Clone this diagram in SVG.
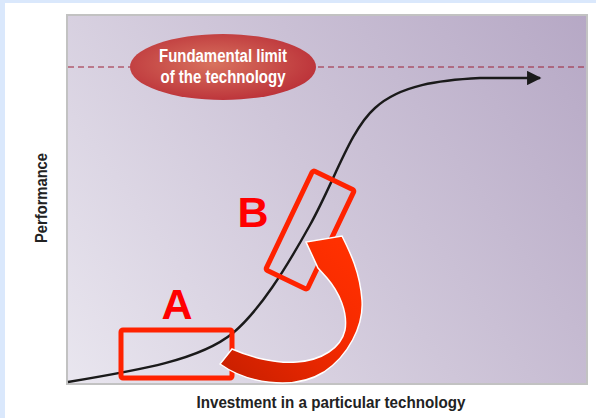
<svg xmlns="http://www.w3.org/2000/svg" width="596" height="418" viewBox="0 0 596 418">
<style>
.lbl{font-family:"Liberation Sans Narrow","Liberation Sans",Arial,sans-serif;font-weight:bold;fill:#222}
.big{font-family:"Liberation Sans",Arial,sans-serif;font-weight:bold;fill:#ff0000;font-size:43px;text-anchor:middle}
.ell{font-family:"Liberation Sans Narrow","Liberation Sans",Arial,sans-serif;font-weight:bold;fill:#fff;font-size:18px}
.box{fill:none;stroke:#ff2200;stroke-width:5;stroke-linejoin:round}
</style>
<defs>
<linearGradient id="bg" gradientUnits="userSpaceOnUse" x1="67" y1="383" x2="587" y2="15">
<stop offset="0" stop-color="#e9e6ef"/>
<stop offset="0.5" stop-color="#cfc6d9"/>
<stop offset="1" stop-color="#b6a8c5"/>
</linearGradient>
<radialGradient id="eg" cx="0.45" cy="0.45" r="0.6">
<stop offset="0" stop-color="#d8725e"/>
<stop offset="1" stop-color="#bb3038"/>
</radialGradient>
<linearGradient id="ag" gradientUnits="userSpaceOnUse" x1="230" y1="370" x2="345" y2="250">
<stop offset="0" stop-color="#cc2000"/>
<stop offset="0.6" stop-color="#f52a00"/>
<stop offset="1" stop-color="#ff3000"/>
</linearGradient>
<marker id="ah" viewBox="0 0 10 10" refX="9" refY="5" markerWidth="6.5" markerHeight="6" markerUnits="strokeWidth" orient="auto">
<path d="M0,0 L10,5 L0,10 Z" fill="#1a1a1a"/>
</marker>
</defs>
<rect x="0" y="0" width="596" height="418" fill="#dae8fc"/>
<rect x="5" y="3" width="591" height="415" fill="#ffffff"/>
<g id="plot">
<rect x="67" y="15" width="520" height="369" fill="url(#bg)" stroke="#c2c2c2" stroke-width="2"/>
<line x1="68" y1="67" x2="586" y2="67" stroke="#9c2036" stroke-width="1" stroke-dasharray="6,4"/>
</g>
<g id="limit">
<ellipse cx="223" cy="67" rx="93" ry="33" fill="url(#eg)"/>
<text class="ell" x="223" y="62" text-anchor="middle" textLength="128" lengthAdjust="spacingAndGlyphs">Fundamental limit</text>
<text class="ell" x="223" y="83" text-anchor="middle" textLength="125" lengthAdjust="spacingAndGlyphs">of the technology</text>
</g>
<g id="connectors">
<path d="M68,382 C140,370 200,360 233,333 C260,310 285,270 310,225 C335,180 350,130 375,108 C400,85 440,80 480,78 L540,78" fill="none" stroke="#1a1a1a" stroke-width="2.4" marker-end="url(#ah)"/>
</g>
<g id="boxA">
<rect class="box" x="121" y="330" width="111" height="48" rx="2"/>
<text class="big" x="177" y="319">A</text>
</g>
<g id="boxB">
<rect class="box" x="-23" y="-55" width="46" height="110" rx="2" transform="translate(310,230) rotate(25.5)"/>
<text class="big" x="253" y="227">B</text>
</g>
<g id="jump">
<path d="M220,364 C245,382 292,392 324,372 C348,356 364,326 362,300 C360,272 350,252 342,236 L306,242 L318,268 L327,278 C339,292 348,312 345,330 C341,348 322,360 297,362 C276,364 250,357 232,349 Z" fill="url(#ag)" stroke="#ffffff" stroke-width="1.5" stroke-linejoin="miter"/>
</g>
<g id="axes">
<text class="lbl" x="0" y="0" font-size="16" text-anchor="middle" textLength="90" lengthAdjust="spacingAndGlyphs" transform="translate(47,198) rotate(-90)">Performance</text>
<text class="lbl" x="331" y="408" font-size="16" text-anchor="middle" textLength="269" lengthAdjust="spacingAndGlyphs">Investment in a particular technology</text>
</g>
</svg>
